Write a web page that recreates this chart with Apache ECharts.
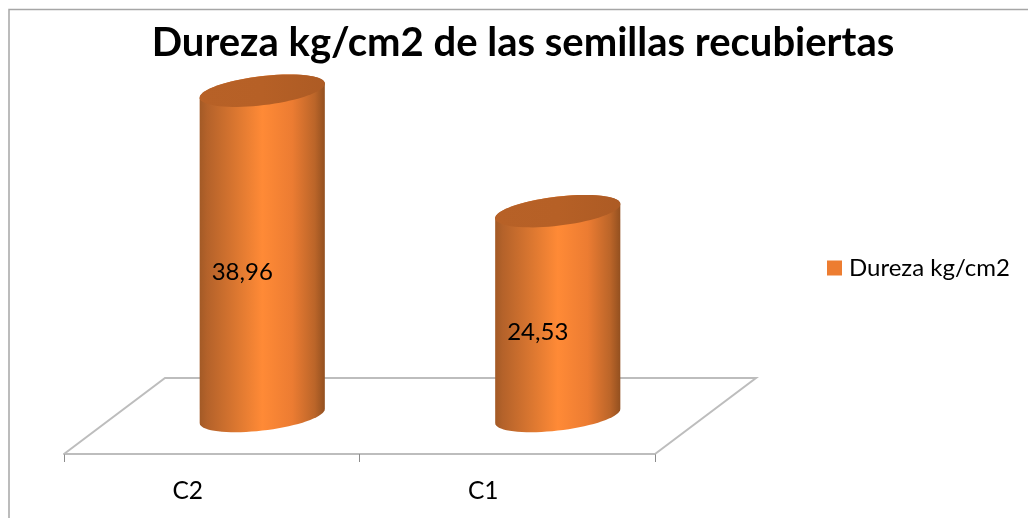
<!DOCTYPE html>
<html>
<head>
<meta charset="utf-8">
<style>html,body{margin:0;padding:0;background:#fff}#chart{width:1028px;height:518px}</style>
<script src="https://cdn.jsdelivr.net/npm/echarts@6/dist/echarts.min.js"></script>
</head>
<body>
<div id="chart"></div>
<script>
const categories = ['C2', 'C1'];
const seriesName = 'Dureza kg/cm2';
const hardness = [38.96, 24.53];
const titleText = 'Dureza kg/cm2 de las semillas recubiertas';

// Oblique projection of the floor: full depth offset of the back edge
const DEPTH_X = 101, DEPTH_Y = -76;
const FONT = 'Lato, Carlito, Calibri, sans-serif';
const RX = 63, RY = 14.5, TILT = 6.8 * Math.PI / 180;

function ellipsePoint(cx, cy, t) {
  const px = RX * Math.cos(t), py = RY * Math.sin(t);
  return [
    cx + px * Math.cos(TILT) + py * Math.sin(TILT),
    cy - px * Math.sin(TILT) + py * Math.cos(TILT)
  ];
}

function ellipseRing(cx, cy) {
  const pts = [];
  for (let i = 0; i < 72; i++) pts.push(ellipsePoint(cx, cy, i / 72 * 2 * Math.PI));
  return pts;
}

// Side silhouette of a tilted cylinder between two ellipse centres
function cylinderSide(cx, topY, baseY) {
  const t0 = Math.atan2(RY * Math.sin(TILT), RX * Math.cos(TILT));
  const pts = [];
  for (let i = 0; i <= 36; i++) pts.push(ellipsePoint(cx, baseY, t0 + i / 36 * Math.PI));
  for (let i = 0; i <= 36; i++) pts.push(ellipsePoint(cx, topY, t0 + Math.PI + i / 36 * Math.PI));
  return pts;
}

const sideFill = new echarts.graphic.LinearGradient(0, 0, 1, 0, [
  { offset: 0, color: '#a35a26' },
  { offset: 0.06, color: '#b4622a' },
  { offset: 0.25, color: '#d4732f' },
  { offset: 0.5, color: '#ff8a36' },
  { offset: 0.74, color: '#ec7c32' },
  { offset: 0.92, color: '#bb6529' },
  { offset: 1, color: '#935020' }
]);
const capFill = new echarts.graphic.LinearGradient(0, 0, 1, 0, [
  { offset: 0, color: '#b76127' },
  { offset: 0.5, color: '#b66026' },
  { offset: 1, color: '#ad5b24' }
]);

function renderFloor(params, api) {
  const cs = params.coordSys;
  const bottom = cs.y + cs.height, left = cs.x, right = cs.x + cs.width;
  return {
    type: 'polyline',
    silent: true,
    shape: { points: [
      [left, bottom],
      [left + DEPTH_X, bottom + DEPTH_Y],
      [right + DEPTH_X, bottom + DEPTH_Y],
      [right, bottom]
    ] },
    style: { stroke: '#bdbdbd', lineWidth: 2, fill: null }
  };
}

function renderCylinder(params, api) {
  const base = api.coord([api.value(0), 0]);
  const top = api.coord([api.value(0), api.value(1)]);
  const cx = base[0] + DEPTH_X / 2;
  const baseY = base[1] + DEPTH_Y / 2;
  const topY = top[1] + DEPTH_Y / 2;
  return {
    type: 'group',
    children: [
      { type: 'polygon', shape: { points: cylinderSide(cx, topY, baseY) }, style: { fill: sideFill } },
      { type: 'polygon', shape: { points: ellipseRing(cx, topY) }, style: { fill: capFill } },
      {
        type: 'text',
        x: cx - 20,
        y: (topY + baseY) / 2 + 19,
        style: {
          text: api.value(1).toFixed(2).replace('.', ','),
          font: '400 24px ' + FONT,
          fill: '#000',
          align: 'center',
          verticalAlign: 'middle'
        }
      }
    ]
  };
}

const chart = echarts.init(document.getElementById('chart'), null, { renderer: 'canvas' });
chart.setOption({
  animation: false,
  backgroundColor: '#fff',
  title: {
    text: titleText,
    left: 518,
    top: 18,
    textAlign: 'center',
    textStyle: { fontFamily: FONT, fontWeight: 700, fontSize: 40, color: '#000' }
  },
  legend: {
    data: [seriesName],
    left: 822,
    top: 251,
    icon: 'rect',
    itemWidth: 15,
    itemHeight: 15,
    itemGap: 0,
    textStyle: { fontFamily: FONT, fontSize: 24, color: '#000', padding: [0, 0, 0, 2] }
  },
  grid: { left: 64, top: 78.25, width: 591, height: 375.75 },
  xAxis: {
    type: 'category',
    data: categories,
    axisLine: { lineStyle: { color: '#bdbdbd', width: 2 } },
    axisTick: { show: true, alignWithLabel: false, length: 8, lineStyle: { color: '#8c8c8c', width: 1 } },
    axisLabel: { fontFamily: FONT, fontSize: 24.5, color: '#000', margin: 25, padding: [0, 48, 0, 0] },
    splitLine: { show: false }
  },
  yAxis: { type: 'value', min: 0, max: 45, show: false, splitLine: { show: false } },
  graphic: [{
    type: 'rect',
    silent: true,
    z: -1,
    shape: { x: 9, y: 9.5, width: 1030, height: 520 },
    style: { fill: null, stroke: '#a6a6a6', lineWidth: 1.5 }
  }],
  series: [
    {
      type: 'custom',
      name: 'floor',
      silent: true,
      renderItem: renderFloor,
      data: [[0, 0]],
      z: 1
    },
    {
      type: 'custom',
      name: seriesName,
      renderItem: renderCylinder,
      itemStyle: { color: '#ed7d31' },
      encode: { x: 0, y: 1 },
      data: categories.map((c, i) => [i, hardness[i]]),
      z: 2
    }
  ]
});
</script>
</body>
</html>
